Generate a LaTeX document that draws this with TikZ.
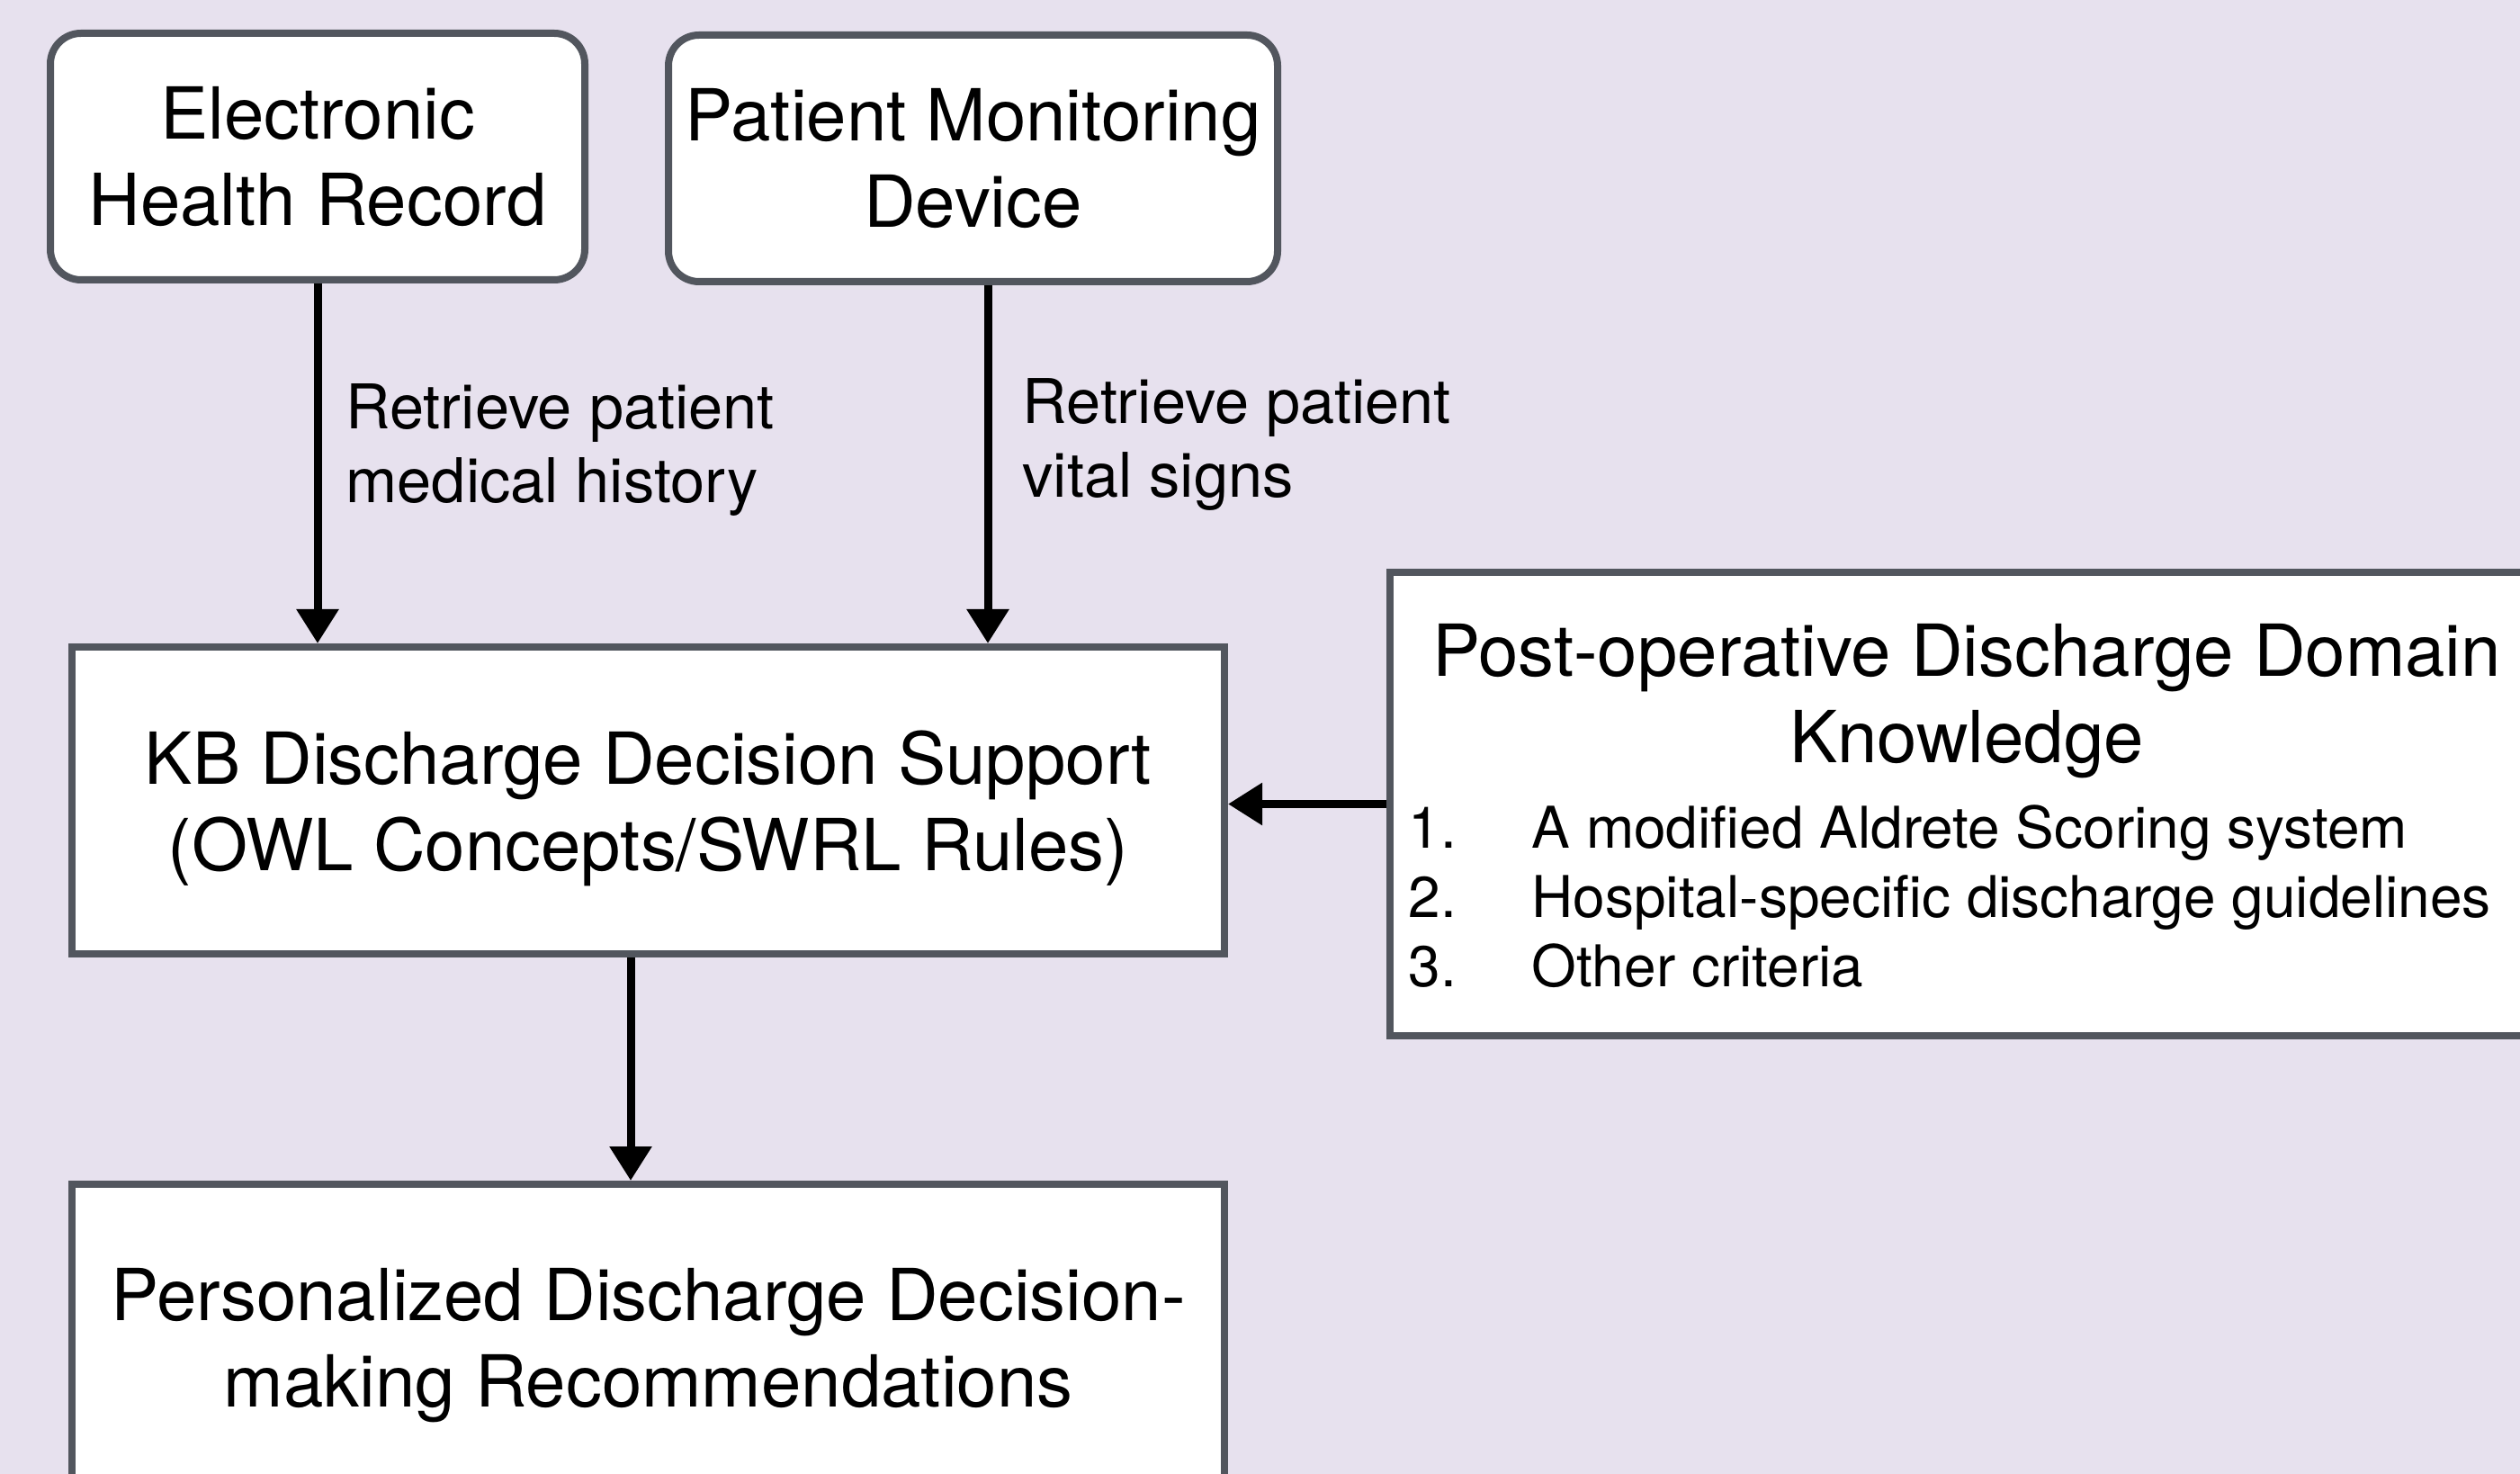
\documentclass[tikz,border=0pt]{standalone}
\usepackage{fontspec}
\setmainfont{TeX Gyre Heros}
\usetikzlibrary{arrows.meta}
\definecolor{bgpurple}{HTML}{E7E1EE}
\definecolor{edgegray}{HTML}{52565E}

\begin{document}
\begin{tikzpicture}[
                        block/.style={rectangle, draw=edgegray, fill=white, line width=0.08cm, inner sep=2pt, align=center, font=\fontsize{22.7}{27.3}\selectfont},
                        rblock/.style={block, rounded corners=0.34cm},
                        arr/.style={-{Triangle[length=0.38cm, width=0.45cm]}, line width=0.09cm},
                        lbl/.style={anchor=west, align=left, inner sep=0pt, font=\fontsize{19.5}{23.3}\selectfont}
                    ]
                    % Background
                    \useasboundingbox (0,0) rectangle (28.01,-16.38);
                    \fill [bgpurple] (0,0) rectangle (28.01,-16.38);

                    % Blocks
                    \node [rblock, minimum width=5.94cm, minimum height=2.74cm] (ehr) at (3.53,-1.74) {Electronic\\Health Record};
                    \node [rblock, minimum width=6.77cm, minimum height=2.74cm] (pmd) at (10.815,-1.76) {Patient Monitoring\\Device};
                    \node [block, minimum width=12.81cm, minimum height=3.41cm] (kb) at (7.205,-8.895) {KB Discharge Decision Support\\\smash{(OWL Concepts/SWRL Rules)}};
                    \node [block, minimum width=12.81cm, minimum height=3.41cm] (pers) at (7.205,-14.865) {Personalized Discharge Decision-\\\smash{making Recommendations}};
                    \node [block, minimum width=12.82cm, minimum height=5.15cm] (post) at (21.86,-8.935) {};
                    \node [align=center, inner sep=0pt, font=\fontsize{22.7}{27.3}\selectfont] (posttitle) at (21.86,-7.79) {Post-operative Discharge Domain\\Knowledge};
                    \node [anchor=west, inner sep=0pt, font=\fontsize{18.2}{21.9}\selectfont] (postlist) at (15.65,-10.04) {%
                        \begin{tabular}{@{}p{1.37cm}@{}l@{}}
                        1. & A modified Aldrete Scoring system\\
                        2. & Hospital-specific discharge guidelines\\
                        3. & Other criteria
                        \end{tabular}};

                    % Labels
                    \node [lbl] (histlbl) at (3.84,-5.00) {Retrieve patient\\medical history};
                    \node [lbl] (vitallbl) at (11.36,-4.94) {Retrieve patient\\vital signs};

                    % Connections
                    \coordinate (pmdout) at ([xshift=1.65mm]pmd.south);
                    \coordinate (kbout) at ([xshift=-1.95mm]kb.south);
                    \draw [arr] (ehr.south) -- (ehr.south |- kb.north);
                    \draw [arr] (pmdout) -- (pmdout |- kb.north);
                    \draw [arr] (post.west) -- (post.west -| kb.east);
                    \draw [arr] (kbout) -- (kbout |- pers.north);
                \end{tikzpicture}
\end{document}
